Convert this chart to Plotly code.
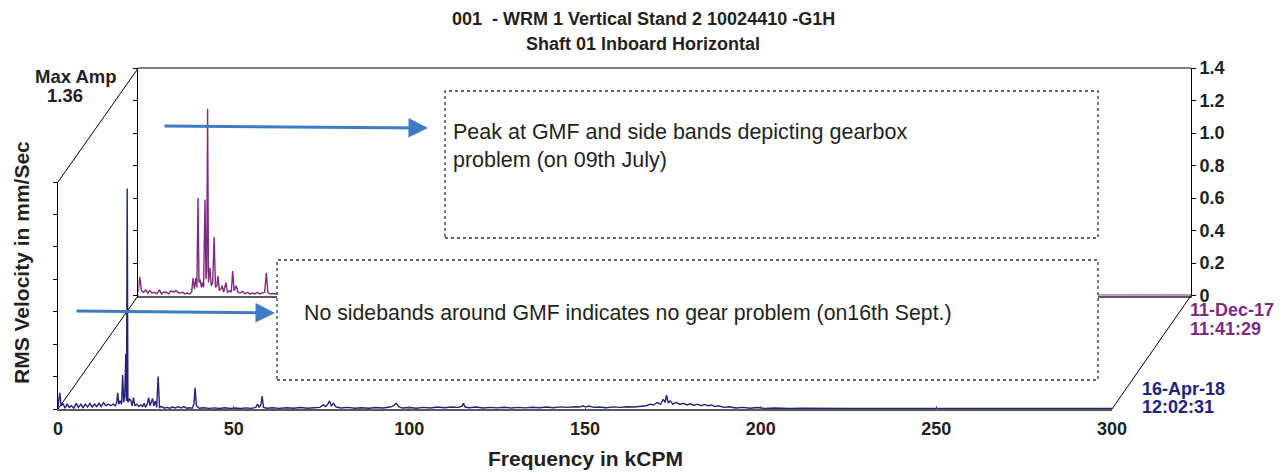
import plotly.graph_objects as go

# ---------------- text ----------------
title_line_1 = "001  - WRM 1 Vertical Stand 2 10024410 -G1H"
title_line_2 = "Shaft 01 Inboard Horizontal"
x_title = "Frequency in kCPM"
y_title = "RMS Velocity in mm/Sec"
max_amp_label = "Max Amp"
max_amp_value = "1.36"
back_date = ["11-Dec-17", "11:41:29"]
front_date = ["16-Apr-18", "12:02:31"]
note_top = "Peak at GMF and side bands depicting gearbox<br>problem (on 09th July)"
note_bottom = "No sidebands around GMF indicates no gear problem (on16th Sept.)"

# ---------------- ticks ----------------
freq_ticks = [0, 50, 100, 150, 200, 250, 300]
amp_ticks = [0, 0.2, 0.4, 0.6, 0.8, 1.0, 1.2, 1.4]
amp_tick_text = ["0", "0.2", "0.4", "0.6", "0.8", "1.0", "1.2", "1.4"]

# ---------------- data: front spectrum (16-Apr-18), (kCPM, mm/s) ----------------
front_spectrum = [
    (0, 0.01), (0.5, 0.10), (0.9, 0.02), (1.4, 0.035), (2.0, 0.005), (2.6, 0.03), (3.2, 0.01), (3.8, 0.02),
    (4.5, 0.005), (5.2, 0.035), (5.8, 0.01), (6.5, 0.03), (7.1, 0.008), (7.8, 0.03), (8.4, 0.012), (9.1, 0.035),
    (9.7, 0.012), (10.4, 0.03), (11.0, 0.015), (11.7, 0.035), (12.3, 0.015), (13.0, 0.04), (13.6, 0.02),
    (14.3, 0.03), (15.0, 0.02), (15.7, 0.03), (16.3, 0.02), (16.7, 0.04), (17.0, 0.10), (17.3, 0.03),
    (17.7, 0.05), (18.1, 0.03), (18.4, 0.21), (18.7, 0.04), (19.0, 0.08), (19.3, 0.34), (19.5, 0.05),
    (19.7, 1.36), (19.9, 0.04), (20.3, 0.06), (20.7, 0.055), (21.1, 0.02), (21.5, 0.07), (21.9, 0.02),
    (22.4, 0.03), (23.0, 0.015), (23.6, 0.025), (24.1, 0.015), (24.5, 0.035), (24.9, 0.01), (25.4, 0.03),
    (25.8, 0.07), (26.2, 0.02), (26.6, 0.04), (26.9, 0.065), (27.3, 0.02), (27.7, 0.05), (28.1, 0.01),
    (28.5, 0.20), (28.9, 0.01), (29.5, 0.015), (30.3, 0.005), (31.0, 0.01), (31.8, 0.005), (32.6, 0.012),
    (33.4, 0.006), (34.2, 0.015), (35.0, 0.006), (35.8, 0.015), (36.6, 0.005), (37.4, 0.008), (38.2, 0.005),
    (38.7, 0.03), (39.0, 0.13), (39.4, 0.02), (40.2, 0.005), (41.5, 0.008), (43.0, 0.004), (44.5, 0.007),
    (46.0, 0.003), (47.5, 0.008), (49.0, 0.004), (50.5, 0.006), (52.0, 0.003), (53.5, 0.007), (55.0, 0.004),
    (56.3, 0.01), (56.8, 0.03), (57.3, 0.01), (57.8, 0.03), (58.1, 0.08), (58.5, 0.01), (59.5, 0.005),
    (61.0, 0.008), (63.0, 0.004), (65.0, 0.008), (67.0, 0.005), (69.0, 0.009), (71.0, 0.005), (73.0, 0.008),
    (74.5, 0.01), (75.5, 0.025), (76.2, 0.015), (76.8, 0.03), (77.3, 0.05), (77.8, 0.02), (78.4, 0.035),
    (79.2, 0.012), (80.5, 0.006), (82.5, 0.01), (84.5, 0.005), (86.5, 0.008), (88.5, 0.005), (90.5, 0.009),
    (92.5, 0.006), (94.5, 0.012), (95.5, 0.02), (96.3, 0.035), (97.0, 0.015), (98.0, 0.006), (100.0, 0.009),
    (102.0, 0.005), (104.0, 0.01), (106.0, 0.006), (108.0, 0.012), (110.0, 0.008), (112.0, 0.012),
    (114.0, 0.01), (115.0, 0.018), (115.4, 0.035), (115.9, 0.012), (117.0, 0.008), (119.0, 0.012),
    (121.0, 0.006), (123.0, 0.01), (125.0, 0.007), (127.0, 0.011), (129.0, 0.006), (131.0, 0.01),
    (133.0, 0.007), (135.0, 0.011), (137.0, 0.008), (139.0, 0.012), (141.0, 0.008), (143.0, 0.013),
    (145.0, 0.01), (147.0, 0.014), (148.5, 0.012), (149.5, 0.02), (150.2, 0.012), (151.0, 0.018),
    (152.5, 0.01), (154.0, 0.012), (156.0, 0.008), (158.0, 0.013), (160.0, 0.01), (162.0, 0.014),
    (164.0, 0.012), (166.0, 0.016), (167.5, 0.02), (168.5, 0.03), (169.5, 0.025), (170.5, 0.04),
    (171.5, 0.03), (172.3, 0.06), (172.8, 0.04), (173.2, 0.085), (173.7, 0.04), (174.3, 0.05), (175.0, 0.03),
    (176.0, 0.04), (177.0, 0.028), (178.0, 0.035), (179.0, 0.025), (180.0, 0.032), (181.0, 0.022),
    (182.0, 0.03), (183.0, 0.02), (184.0, 0.028), (185.0, 0.02), (186.0, 0.025), (187.0, 0.015),
    (188.0, 0.02), (189.5, 0.01), (191.0, 0.014), (193.0, 0.006), (195.0, 0.01), (197.0, 0.005),
    (199.0, 0.009), (201.0, 0.004), (204.0, 0.006), (208.0, 0.003), (212.0, 0.005), (216.0, 0.003),
    (220.0, 0.005), (225.0, 0.003), (230.0, 0.004), (235.0, 0.003), (240.0, 0.005), (245.0, 0.003),
    (250.0, 0.004), (255.0, 0.003), (260.0, 0.004), (265.0, 0.003), (270.0, 0.004), (275.0, 0.003),
    (280.0, 0.004), (285.0, 0.003), (290.0, 0.004), (295.0, 0.003), (300.0, 0.003),
]

# ---------------- data: back spectrum (11-Dec-17), (kCPM, mm/s) ----------------
back_spectrum = [
    (0, 0.02), (0.4, 0.115), (0.9, 0.03), (1.5, 0.02), (2.1, 0.035), (2.7, 0.015), (3.3, 0.03), (3.9, 0.015),
    (4.6, 0.02), (5.3, 0.01), (6.0, 0.035), (6.6, 0.01), (7.3, 0.02), (8.0, 0.02), (8.7, 0.01), (9.3, 0.03),
    (10.0, 0.02), (10.7, 0.03), (11.3, 0.02), (12.0, 0.015), (12.7, 0.02), (13.3, 0.01), (14.0, 0.015),
    (14.6, 0.01), (15.2, 0.02), (15.6, 0.107), (16.0, 0.04), (16.4, 0.107), (16.7, 0.05), (17.0, 0.60),
    (17.3, 0.08), (17.6, 0.10), (18.0, 0.05), (18.3, 0.08), (18.6, 0.05), (19.0, 0.59), (19.3, 0.10),
    (19.5, 0.16), (19.75, 1.15), (20.0, 0.08), (20.4, 0.17), (20.8, 0.06), (21.2, 0.08), (21.6, 0.36),
    (22.0, 0.05), (22.4, 0.06), (22.7, 0.12), (23.1, 0.03), (23.5, 0.04), (23.9, 0.06), (24.3, 0.02),
    (25.0, 0.08), (25.4, 0.02), (26.0, 0.03), (26.5, 0.02), (26.9, 0.15), (27.3, 0.03), (27.9, 0.06),
    (28.4, 0.02), (29.0, 0.015), (29.7, 0.025), (30.4, 0.01), (31.1, 0.02), (31.8, 0.01), (32.5, 0.015),
    (33.2, 0.01), (33.9, 0.02), (34.6, 0.01), (35.3, 0.015), (36.0, 0.02), (36.5, 0.14), (36.9, 0.02),
    (37.5, 0.01), (38.5, 0.012), (40.0, 0.008), (45.0, 0.006), (60.0, 0.005), (100.0, 0.004),
    (200.0, 0.003), (270.0, 0.002), (280.0, 0.002), (290.0, 0.002), (300.0, 0.002),
]

front_freq = [p[0] for p in front_spectrum]
front_amp = [p[1] for p in front_spectrum]
back_freq = [p[0] for p in back_spectrum]
back_amp = [p[1] for p in back_spectrum]

# ---------------- layout geometry ----------------
# page coordinates; the page body adds an 8 px offset around the figure
OFF = 8
W, H = 1285 - OFF, 473 - OFF
ML, MR, MT, MB = 58 - OFF, 94, 68 - OFF, 64
PW, PH = W - ML - MR, H - MT - MB


def px(x):
    return (x - OFF - ML) / PW


def py(y):
    return (H - MB - (y - OFF)) / PH


FRONT_X = [0.0, px(1112)]
BACK_X = [px(138.3), 1.0]
FRONT_Y = [0.0, py(182)]
BACK_Y = [py(295.5), 1.0]

FRONT_COLOR = "#23237a"
BACK_COLOR = "#7e2a80"
TEXT = "#231f20"
ARROW = "#3f7bc4"
FONT = "Arial, Liberation Sans, Helvetica, sans-serif"

fig = go.Figure()
fig.add_trace(go.Scatter(x=back_freq, y=back_amp, xaxis="x2", yaxis="y2", mode="lines",
                         line=dict(color=BACK_COLOR, width=1.4), showlegend=False, hoverinfo="skip"))
fig.add_trace(go.Scatter(x=front_freq, y=front_amp, xaxis="x", yaxis="y", mode="lines",
                         line=dict(color=FRONT_COLOR, width=1.4), showlegend=False, hoverinfo="skip"))

tickfont = dict(family=FONT, size=18, color=TEXT, weight="bold")

fig.update_layout(
    width=W, height=H, margin=dict(l=ML, r=MR, t=MT, b=MB),
    plot_bgcolor="white", paper_bgcolor="white", showlegend=False,
    font=dict(family=FONT, color=TEXT),
    xaxis=dict(domain=FRONT_X, range=[0, 300], anchor="y", showgrid=False, zeroline=False,
               showline=True, linecolor="#58595b", linewidth=2, tickvals=freq_ticks,
               ticks="inside", ticklen=3, tickcolor="#58595b", tickfont=tickfont, ticklabelstandoff=2),
    yaxis=dict(domain=FRONT_Y, range=[0, 1.4], anchor="x", showgrid=False, zeroline=False,
               showline=True, linecolor="black", linewidth=1, tickvals=amp_ticks,
               ticks="outside", ticklen=4, tickcolor="black", showticklabels=False),
    yaxis3=dict(overlaying="y", anchor="x", range=[0, 1.4], showgrid=False, zeroline=False,
                tickvals=amp_ticks, ticks="inside", ticklen=4, tickcolor="black",
                showticklabels=False, showline=False),
    xaxis2=dict(domain=BACK_X, range=[0, 300], anchor="y2", showgrid=False, zeroline=False,
                showline=True, linecolor="#58595b", linewidth=2, mirror=False,
                showticklabels=False, ticks=""),
    yaxis2=dict(domain=BACK_Y, range=[0, 1.4], anchor="x2", side="right", showgrid=False,
                zeroline=False, showline=True, linecolor="black", linewidth=1, mirror="ticks",
                tickvals=amp_ticks, ticktext=amp_tick_text, ticks="outside", ticklen=4,
                tickcolor="black", tickfont=tickfont),
    yaxis4=dict(overlaying="y2", anchor="x2", side="right", range=[0, 1.4], showgrid=False,
                zeroline=False, tickvals=amp_ticks, ticks="inside", ticklen=4, tickcolor="black",
                mirror="ticks", showline=False, showticklabels=False),
)

# frame lines linking the front and back planes
frame = [
    (FRONT_X[0], FRONT_Y[0], BACK_X[0], BACK_Y[0]),
    (FRONT_X[0], FRONT_Y[1], BACK_X[0], BACK_Y[1]),
    (FRONT_X[1], FRONT_Y[0], BACK_X[1], BACK_Y[0]),
    (BACK_X[0], BACK_Y[1], BACK_X[1], BACK_Y[1]),
]
for x0, y0, x1, y1 in frame:
    fig.add_shape(type="line", xref="paper", yref="paper", x0=x0, y0=y0, x1=x1, y1=y1,
                  line=dict(color="black", width=1))

# annotation boxes
fig.add_shape(type="rect", xref="paper", yref="paper", x0=px(445), x1=px(1098), y0=py(238), y1=py(91),
              line=dict(color="#333333", width=1.3, dash="dot"), fillcolor="white", layer="above")
fig.add_shape(type="rect", xref="paper", yref="paper", x0=px(277), x1=px(1098), y0=py(380), y1=py(260),
              line=dict(color="#333333", width=1.3, dash="dot"), fillcolor="white", layer="above")

ann = []
ann.append(dict(x=px(643), xref="paper", y=py(19), yref="paper", xanchor="center", yanchor="middle",
                text=f"<b>{title_line_1}</b>", showarrow=False, font=dict(size=18, color=TEXT)))
ann.append(dict(x=px(643), xref="paper", y=py(44), yref="paper", xanchor="center", yanchor="middle",
                text=f"<b>{title_line_2}</b>", showarrow=False, font=dict(size=18, color=TEXT)))
ann.append(dict(x=px(22), y=py(263), xref="paper", yref="paper", textangle=-90, xanchor="center",
                yanchor="middle", text=f"<b>{y_title}</b>", showarrow=False, font=dict(size=21, color=TEXT)))
ann.append(dict(x=px(585), y=py(458), xref="paper", yref="paper", xanchor="center", yanchor="middle",
                text=f"<b>{x_title}</b>", showarrow=False, font=dict(size=21, color=TEXT)))
ann.append(dict(x=px(33), y=py(76), xref="paper", yref="paper", xanchor="left", yanchor="middle",
                text=f"<b>{max_amp_label}</b>", showarrow=False, font=dict(size=18.5, color=TEXT)))
ann.append(dict(x=px(45), y=py(95), xref="paper", yref="paper", xanchor="left", yanchor="middle",
                text=f"<b>{max_amp_value}</b>", showarrow=False, font=dict(size=18.5, color=TEXT)))
for txt, yy in zip(back_date, [310, 329]):
    ann.append(dict(x=px(1188), y=py(yy), xref="paper", yref="paper", xanchor="left", yanchor="middle",
                    text=f"<b>{txt}</b>", showarrow=False, font=dict(size=18, color=BACK_COLOR)))
for txt, yy in zip(front_date, [389, 407]):
    ann.append(dict(x=px(1140), y=py(yy), xref="paper", yref="paper", xanchor="left", yanchor="middle",
                    text=f"<b>{txt}</b>", showarrow=False, font=dict(size=18, color=FRONT_COLOR)))
ann.append(dict(x=px(451), y=py(146), xref="paper", yref="paper", xanchor="left", yanchor="middle",
                align="left", text=note_top, showarrow=False, font=dict(size=21.5, color=TEXT)))
ann.append(dict(x=px(302), y=py(313), xref="paper", yref="paper", xanchor="left", yanchor="middle",
                align="left", text=note_bottom, showarrow=False, font=dict(size=21.3, color=TEXT)))
# arrows
ann.append(dict(x=px(428), y=py(128), xref="paper", yref="paper", ax=-265, ay=-2, text="",
                showarrow=True, arrowhead=2, arrowsize=1.3, arrowwidth=3, arrowcolor=ARROW, standoff=0))
ann.append(dict(x=px(275), y=py(313), xref="paper", yref="paper", ax=-200, ay=-2, text="",
                showarrow=True, arrowhead=2, arrowsize=1.3, arrowwidth=3, arrowcolor=ARROW, standoff=0))
fig.update_layout(annotations=ann)

fig.write_html("out.html")
